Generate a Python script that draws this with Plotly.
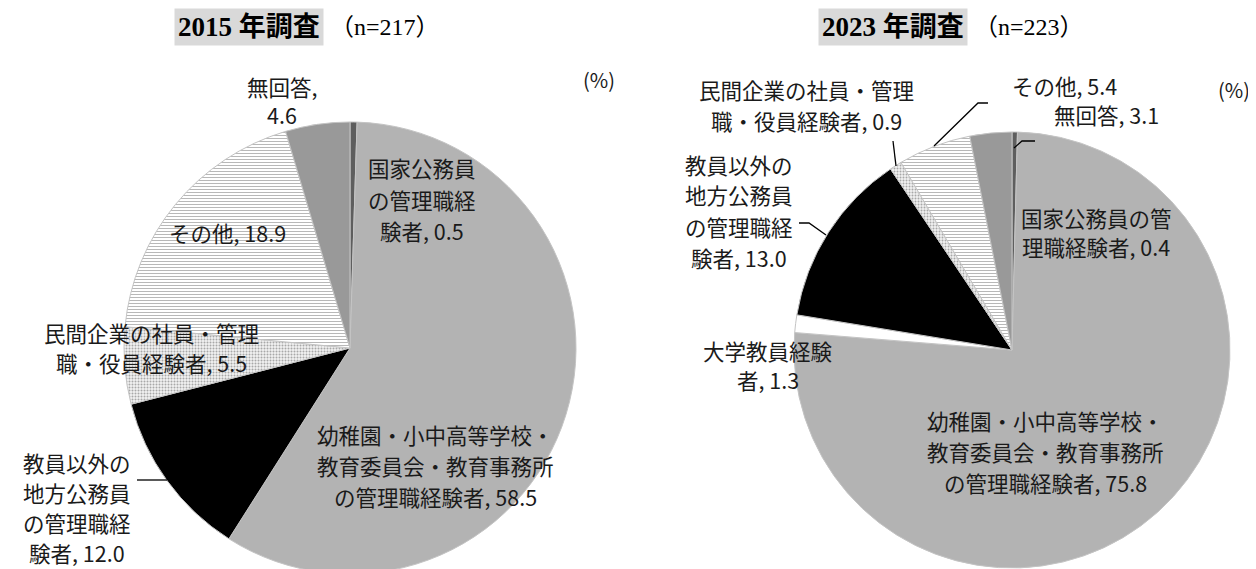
import plotly.graph_objects as go

W, H = 1256, 569

# ---------------- data ----------------
cats_2015 = ["国家公務員の管理職経験者",
             "幼稚園・小中高等学校・教育委員会・教育事務所の管理職経験者",
             "教員以外の地方公務員の管理職経験者",
             "民間企業の社員・管理職・役員経験者",
             "その他",
             "無回答"]
vals_2015 = [0.5, 58.5, 12.0, 5.5, 18.9, 4.6]

cats_2023 = ["国家公務員の管理職経験者",
             "幼稚園・小中高等学校・教育委員会・教育事務所の管理職経験者",
             "大学教員経験者",
             "教員以外の地方公務員の管理職経験者",
             "民間企業の社員・管理職・役員経験者",
             "その他",
             "無回答"]
vals_2023 = [0.4, 75.8, 1.3, 13.0, 0.9, 5.4, 3.1]

# label line breaks (value appended to the last line)
lines_2015 = [["国家公務員", "の管理職経", "験者, "],
              ["幼稚園・小中高等学校・", "教育委員会・教育事務所", "の管理職経験者, "],
              ["教員以外の", "地方公務員", "の管理職経", "験者, "],
              ["民間企業の社員・管理", "職・役員経験者, "],
              ["その他, "],
              ["無回答,", ""]]
lines_2023 = [["国家公務員の管", "理職経験者, "],
              ["幼稚園・小中高等学校・", "教育委員会・教育事務所", "の管理職経験者, "],
              ["大学教員経験", "者, "],
              ["教員以外の", "地方公務員", "の管理職経", "験者, "],
              ["民間企業の社員・管理", "職・役員経験者, "],
              ["その他, "],
              ["無回答, "]]

# ---------------- styles ----------------
style = {
    "国家公務員の管理職経験者": dict(color="#5e5e5e", shape="", fg="#5e5e5e"),
    "幼稚園・小中高等学校・教育委員会・教育事務所の管理職経験者": dict(color="#b3b3b3", shape="", fg="#b3b3b3"),
    "大学教員経験者": dict(color="#ffffff", shape="", fg="#ffffff"),
    "教員以外の地方公務員の管理職経験者": dict(color="#000000", shape="", fg="#000000"),
    "民間企業の社員・管理職・役員経験者": dict(color="#f2f2f2", shape=".", fg="#a8a8a8"),
    "その他": dict(color="#ffffff", shape="-", fg="#b8b8b8"),
    "無回答": dict(color="#999999", shape="", fg="#999999"),
}

DY = -6  # vertical correction for font metrics
# label positions (pixel centers of the first line), line step in px
pos_2015 = [(414, 166, 31), (427, 432, 31), (69, 460, 30), (143, 330, 30), (219, 230, 31), (274, 84, 29)]
pos_2023 = [(1088, 215, 30), (1037, 418, 31), (760, 348, 29), (731, 162, 31), (798, 88, 30), (1056, 83, 30), (1098, 113, 30)]

LABEL_FONT = dict(family="Noto Sans CJK JP, Noto Sans, sans-serif", size=21.5, color="#1a1a1a")
TITLE_FONT = "Liberation Serif, DejaVu Serif, Noto Sans CJK JP, serif"


def px2paper(x, y):
    return x / W, 1 - y / H


def domain(cx, cy, r):
    return dict(x=[(cx - r) / W, (cx + r) / W], y=[1 - (cy + r) / H, 1 - (cy - r) / H])


def pie(cats, vals, dom):
    return go.Pie(
        labels=cats, values=vals, sort=False, direction="clockwise", rotation=0,
        textinfo="none", hoverinfo="label+value", showlegend=False, domain=dom,
        marker=dict(
            colors=[style[c]["color"] for c in cats],
            line=dict(color="#c4c4c4", width=1),
            pattern=dict(
                shape=[style[c]["shape"] for c in cats],
                fgcolor=[style[c]["fg"] for c in cats],
                bgcolor=[style[c]["color"] for c in cats],
                size=3, solidity=0.35,
            ),
        ),
    )


fig = go.Figure()
fig.add_trace(pie(cats_2015, vals_2015, domain(342, 340, 226)))
fig.add_trace(pie(cats_2023, vals_2023, domain(1004, 342, 218)))

annotations = []


def add_labels(lines_list, vals, positions):
    for lines, v, (x, y, step) in zip(lines_list, vals, positions):
        for i, ln in enumerate(lines):
            txt = ln + (f"{v:.1f}" if i == len(lines) - 1 else "")
            px, py = px2paper(x, y + i * step + DY)
            annotations.append(dict(x=px, y=py, xref="paper", yref="paper", text=txt,
                                    showarrow=False, xanchor="center", yanchor="middle",
                                    font=LABEL_FONT))


add_labels(lines_2015, vals_2015, pos_2015)
add_labels(lines_2023, vals_2023, pos_2023)

# titles
for bold, n, bx, nx in [("2015 年調査", "（n=217）", 316, 320), ("2023 年調査", "（n=223）", 960, 964)]:
    px, py = px2paper(bx, 25 + DY)
    annotations.append(dict(x=px, y=py, xref="paper", yref="paper", text=f"<b>{bold}</b>",
                            showarrow=False, xanchor="right", yanchor="middle", bgcolor="#d9d9d9",
                            borderpad=3, font=dict(family=TITLE_FONT, size=27, color="#000000")))
    px, py = px2paper(nx, 25 + DY)
    annotations.append(dict(x=px, y=py, xref="paper", yref="paper", text=n,
                            showarrow=False, xanchor="left", yanchor="middle",
                            font=dict(family=TITLE_FONT, size=24, color="#000000")))

# (%) units
for x, y in [(591, 78), (1226, 88)]:
    px, py = px2paper(x, y + DY)
    annotations.append(dict(x=px, y=py, xref="paper", yref="paper", text="(%)",
                            showarrow=False, xanchor="center", yanchor="middle",
                            font=dict(family="Noto Sans CJK JP, sans-serif", size=20, color="#1a1a1a")))

# leader lines (pixel paths)
leaders = [
    [(129, 472), (159, 472)],
    [(885, 133), (888, 158)],
    [(980, 95), (970, 95), (926, 138)],
    [(1027, 133), (1014, 133), (1006, 140)],
    [(791, 215), (801, 215), (818, 227)],
]
shapes = []
for pts in leaders:
    path = ""
    for j, (x, y) in enumerate(pts):
        px, py = px2paper(x, y)
        path += ("M" if j == 0 else " L") + f" {px:.5f} {py:.5f}"
    shapes.append(dict(type="path", xref="paper", yref="paper", path=path,
                       line=dict(color="#000000", width=1.3)))

fig.update_layout(
    width=W, height=H, margin=dict(l=0, r=0, t=0, b=0),
    paper_bgcolor="#ffffff", plot_bgcolor="#ffffff",
    annotations=annotations, shapes=shapes,
)

fig.write_html("out.html")
